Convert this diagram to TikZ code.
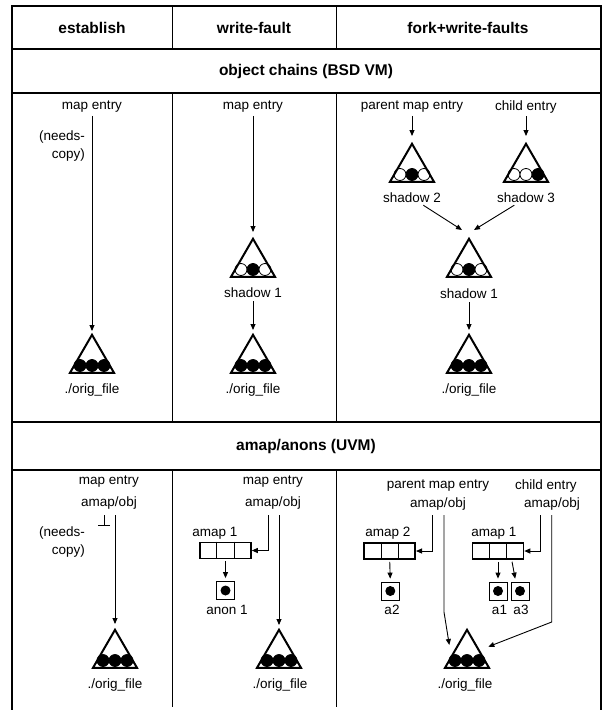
\documentclass[tikz,border=0pt]{standalone}
\usepackage{fontspec}
\setmainfont{Liberation Sans}
\usetikzlibrary{arrows.meta,calc}
\newcommand{\vmobj}[6]{%
  \coordinate (#1) at (#2,#3);
  \foreach \fc/\dx in {#4/-12,#5/0,#6/12}
    \filldraw[fill=\fc,draw=black,line width=.8pt] ($(#1)+(\dx,32.5)$) circle (6pt);
  \draw[line width=2pt,line join=miter] (#2,{#3+1.8}) -- ++(-22,38) -- ++(44,0) -- cycle;}

\begin{document}
\begin{tikzpicture}[x=1pt,y=-1pt,
  txt/.style={font=\fontsize{13.5}{18}\selectfont,inner sep=1pt},
  hdr/.style={font=\fontsize{15.5}{18}\selectfont\bfseries},
  arr/.style={-{Triangle[length=6pt,width=5pt]},line width=.9pt,shorten <=2pt},
  frame/.style={line width=1.6pt},
  amapbox/.style={draw,line width=1.6pt,minimum width=51pt,minimum height=16pt,inner sep=0pt},
  anonbox/.style={draw,line width=.8pt,minimum size=18pt,inner sep=0pt}]
\useasboundingbox (0,0) rectangle (604,710);
\draw[frame] (12,710) -- (12,6) -- (601,6) -- (601,710);
\draw[frame] (12,49) -- (601,49) (12,93) -- (601,93) (12,422) -- (601,422) (12,470) -- (601,470);
\foreach \cx in {172,336}
  \draw[line width=1pt] (\cx,6) -- (\cx,49) (\cx,93) -- (\cx,422) (\cx,470) -- (\cx,707);
\node[hdr] (hEst) at (92,28) {establish};
\node[hdr] (hWf) at (254,28) {write-fault};
\node[hdr] (hFork) at (468,28) {fork+write-faults};
\node[hdr] (hBsd) at (306,71) {object chains (BSD VM)};
\node[hdr] (hUvm) at (306,446) {amap/anons (UVM)};

\node[txt] (me1) at (92,107) {map entry};
\node[txt,align=right,anchor=east] (nc1) at (86,146) {(needs-\\copy)};
\vmobj{of1}{92}{333}{black}{black}{black}
\node[txt] (of1l) at (92,390) {./orig\_file};
\draw[arr,shorten >=2pt] (me1) -- (of1);

\node[txt] (me2) at (253,107) {map entry};
\vmobj{sh1}{253}{237}{white}{black}{white}
\node[txt] (sh1l) at (253,293) {shadow 1};
\vmobj{of2}{253}{333}{black}{black}{black}
\node[txt] (of2l) at (253,390) {./orig\_file};
\draw[arr,shorten >=5pt] (me2) -- (sh1);
\draw[arr,shorten >=3pt] (sh1l) -- (of2);

\node[txt] (pme3) at (412,107) {parent map entry};
\node[txt] (ce3) at (526,107) {child entry};
\vmobj{sh2}{412}{142}{white}{black}{white}
\vmobj{sh3}{526}{142}{white}{white}{black}
\node[txt] (sh2l) at (412,198) {shadow 2};
\node[txt] (sh3l) at (526,198) {shadow 3};
\vmobj{sh1b}{469}{237}{white}{black}{white}
\node[txt] (sh1bl) at (469,294) {shadow 1};
\vmobj{of3}{469}{333}{black}{black}{black}
\node[txt] (of3l) at (469,390) {./orig\_file};
\draw[arr,shorten >=6pt] (pme3) -- (sh2);
\draw[arr,shorten >=6pt] (ce3) -- (sh3);
\draw[arr] (sh2l) -- ([xshift=-7pt,yshift=7pt]sh1b);
\draw[arr] (sh3l) -- ([xshift=5pt,yshift=7pt]sh1b);
\draw[arr,shorten >=3pt] (sh1bl) -- (of3);

\node[txt] (me4) at (109,482) {map entry};
\node[txt] (ao4) at (109,503) {amap/obj};
\coordinate (nul4) at (104,515);
\coordinate (ao4b) at (115,515);
\draw[line width=.9pt] (nul4) -- ++(0,10) ++(-6,0) -- ++(12,0);
\node[txt,align=right,anchor=east] (nc4) at (86,542) {(needs-\\copy)};
\vmobj{of4}{115}{628}{black}{black}{black}
\node[txt] (of4l) at (115,685) {./orig\_file};
\draw[arr,shorten <=0pt,shorten >=4pt] (ao4b) -- (of4);

\node[txt] (me5) at (273,482) {map entry};
\node[txt] (ao5) at (273,503) {amap/obj};
\coordinate (ao5a) at (268,515);
\coordinate (ao5b) at (279,515);
\node[txt] (am1l) at (215,533) {amap 1};
\node[amapbox] (am1) at (225.5,550.5) {};
\node[anonbox] (an1) at (225.5,590.5) {};
\node[txt] (an1l) at (227,610) {anon 1};
\vmobj{of5}{279}{628}{black}{black}{black}
\node[txt] (of5l) at (280,685) {./orig\_file};
\draw[arr,shorten <=0pt] (ao5a) |- (am1.east);
\draw[arr,shorten <=0pt,shorten >=3pt] (ao5b) -- (of5);
\draw[arr,shorten >=3pt] (am1.south) -- (an1.north);

\node[txt] (pme6) at (438,486) {parent map entry};
\node[txt] (ao6) at (438,504) {amap/obj};
\node[txt] (ce6) at (546,486) {child entry};
\node[txt] (ao7) at (552,504) {amap/obj};
\coordinate (ao6a) at (432.7,515);
\coordinate (ao6b) at (444,515);
\coordinate (ao7a) at (540,515);
\coordinate (ao7b) at (551.7,515);
\node[txt] (am2l) at (388,533) {amap 2};
\node[amapbox] (am2) at (389.7,551) {};
\node[anonbox] (a2) at (390.3,591) {};
\node[txt] (a2l) at (392,610) {a2};
\node[txt] (am3l) at (494,533) {amap 1};
\node[amapbox] (am3) at (498,551) {};
\node[anonbox] (a1) at (498,591) {};
\node[anonbox] (a3) at (520,591) {};
\node[txt] (a1l) at (499.5,610) {a1};
\node[txt] (a3l) at (521,610) {a3};
\vmobj{of6}{467}{628}{black}{black}{black}
\node[txt] (of6l) at (465,685) {./orig\_file};
\coordinate (of6w) at (449.3,645);
\coordinate (of6e) at (488.3,646.7);
\draw[arr,shorten <=0pt] (ao6a) |- (am2.east);
\draw[arr,shorten <=0pt] (ao6b) -- ++(0,97) -- (of6w);
\draw[arr,shorten <=0pt] (ao7a) |- (am3.east);
\draw[arr,shorten <=0pt] (ao7b) -- ++(0,107) -- (of6e);
\draw[arr,shorten >=3pt] (am2.south) -- (a2.north);
\draw[arr,shorten >=3pt] (am3.south -| a1) -- (a1.north);
\draw[arr,shorten >=3pt] ([xshift=13.7pt]am3.south) -- ([xshift=-4.3pt]a3.north);

\foreach \bx in {am1,am2,am3}
  \foreach \f in {1,2}
    \draw[line width=.8pt] ($(\bx.north west)!\f/3!(\bx.north east)$) -- ($(\bx.south west)!\f/3!(\bx.south east)$);
\foreach \an in {an1,a2,a1,a3}
  \fill (\an) circle (5pt);
\end{tikzpicture}
\end{document}
